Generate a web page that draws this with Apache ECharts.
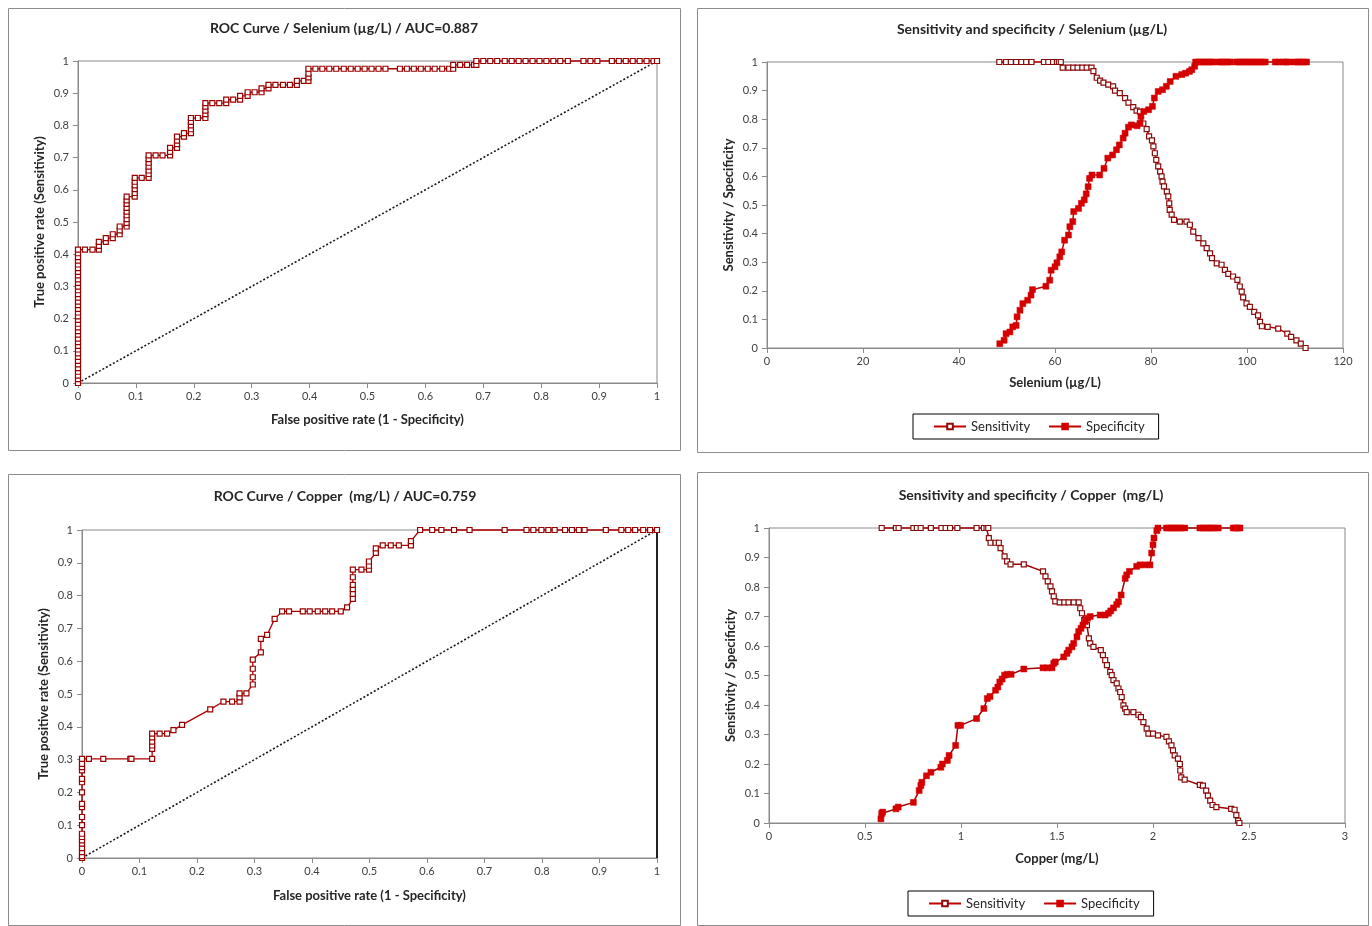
<!DOCTYPE html>
<html><head><meta charset="utf-8">
<script src="https://cdn.jsdelivr.net/npm/echarts@6/dist/echarts.min.js"></script>
<style>html,body{margin:0;padding:0;background:#fff}#c{width:1372px;height:926px}</style>
</head><body><div id="c"></div>
<script>
// ---------- tick labels ----------
const rocTicks = [0,0.1,0.2,0.3,0.4,0.5,0.6,0.7,0.8,0.9,1];
const seTicks = [0,20,40,60,80,100,120];
const cuTicks = [0,0.5,1,1.5,2,2.5,3];
const probTicks = [0,0.1,0.2,0.3,0.4,0.5,0.6,0.7,0.8,0.9,1];

// ---------- titles ----------
const titles = [
  'ROC Curve / Selenium (µg/L) / AUC=0.887',
  'Sensitivity and specificity / Selenium (µg/L)',
  'ROC Curve / Copper  (mg/L) / AUC=0.759',
  'Sensitivity and specificity / Copper  (mg/L)'
];
const legendNames = ['Sensitivity','Specificity'];

// ---------- diagonal reference ----------
const diagonal = [[0,0],[1,1]];

// ---------- ROC Selenium [FPR, TPR] ----------
const seRoc = [[0,0],[0,0.012],[0,0.023],[0,0.035],[0,0.046],[0,0.058],[0,0.069],[0,0.081],[0,0.092],[0,0.104],[0,0.115],[0,0.127],[0,0.138],[0,0.15],[0,0.161],[0,0.173],[0,0.184],[0,0.196],[0,0.207],[0,0.219],[0,0.23],[0,0.242],[0,0.253],[0,0.265],[0,0.276],[0,0.288],[0,0.299],[0,0.311],[0,0.322],[0,0.334],[0,0.345],[0,0.357],[0,0.368],[0,0.38],[0,0.391],[0,0.403],[0,0.414],
[0.012,0.414],[0.025,0.414],[0.036,0.414],[0.036,0.426],[0.036,0.438],[0.048,0.438],[0.048,0.45],[0.06,0.45],[0.06,0.462],[0.072,0.462],[0.072,0.474],[0.072,0.486],[0.084,0.486],[0.084,0.497],[0.084,0.509],[0.084,0.521],[0.084,0.532],[0.084,0.544],[0.084,0.556],[0.084,0.567],[0.084,0.579],[0.098,0.579],[0.098,0.59],[0.098,0.602],[0.098,0.614],[0.098,0.625],[0.098,0.637],[0.11,0.637],[0.122,0.637],[0.122,0.649],[0.122,0.66],[0.122,0.672],[0.122,0.684],[0.122,0.695],[0.122,0.707],[0.134,0.707],[0.146,0.707],[0.159,0.707],[0.159,0.718],[0.159,0.73],[0.171,0.73],[0.171,0.742],[0.171,0.753],[0.171,0.765],[0.183,0.765],[0.183,0.776],[0.195,0.776],[0.195,0.788],[0.195,0.8],[0.195,0.811],[0.195,0.823],[0.207,0.823],[0.22,0.823],[0.22,0.835],[0.22,0.846],[0.22,0.858],[0.22,0.869],[0.232,0.869],[0.244,0.869],[0.256,0.869],[0.256,0.88],[0.268,0.88],[0.28,0.88],[0.28,0.892],[0.293,0.892],[0.293,0.903],[0.305,0.903],[0.317,0.903],[0.317,0.915],[0.329,0.915],[0.329,0.926],[0.341,0.926],[0.354,0.926],[0.366,0.926],[0.378,0.926],[0.378,0.938],[0.39,0.938],[0.398,0.938],[0.398,0.949],[0.398,0.961],[0.398,0.976],[0.41,0.976],[0.422,0.976],[0.434,0.976],[0.446,0.976],[0.459,0.976],[0.471,0.976],[0.483,0.976],[0.495,0.976],[0.507,0.976],[0.519,0.976],[0.531,0.976],[0.556,0.976],[0.568,0.976],[0.58,0.976],[0.592,0.976],[0.604,0.976],[0.616,0.976],[0.629,0.976],[0.641,0.976],[0.648,0.976],[0.648,0.988],[0.66,0.988],[0.672,0.988],[0.684,0.988],[0.688,0.988],[0.688,1],[0.7,1],[0.712,1],[0.724,1],[0.737,1],[0.749,1],[0.761,1],[0.773,1],[0.785,1],[0.797,1],[0.809,1],[0.821,1],[0.833,1],[0.846,1],[0.873,1],[0.885,1],[0.897,1],[0.922,1],[0.934,1],[0.946,1],[0.958,1],[0.97,1],[0.982,1],[0.994,1],[1,1]];

// ---------- ROC Copper [FPR, TPR] ----------
const cuRoc = [[0,0],[0,0.006],[0,0.018],[0,0.03],[0,0.044],[0,0.054],[0,0.064],[0,0.074],[0,0.1],[0,0.125],[0,0.155],[0,0.165],[0,0.2],[0,0.231],[0,0.241],[0,0.267],[0,0.277],[0,0.287],[0,0.302],[0.012,0.302],[0.037,0.302],[0.084,0.302],[0.086,0.302],[0.122,0.302],[0.122,0.333],[0.122,0.343],[0.122,0.355],[0.122,0.368],[0.122,0.379],[0.135,0.379],[0.148,0.379],[0.159,0.39],[0.174,0.406],[0.223,0.453],[0.246,0.477],[0.261,0.477],[0.274,0.477],[0.274,0.49],[0.274,0.502],[0.286,0.502],[0.297,0.529],[0.297,0.551],[0.297,0.577],[0.297,0.605],[0.311,0.627],[0.311,0.668],[0.322,0.68],[0.335,0.729],[0.348,0.752],[0.36,0.752],[0.384,0.752],[0.396,0.752],[0.41,0.752],[0.423,0.752],[0.435,0.752],[0.45,0.752],[0.461,0.764],[0.471,0.79],[0.471,0.805],[0.471,0.82],[0.471,0.833],[0.471,0.856],[0.471,0.879],[0.486,0.879],[0.499,0.879],[0.499,0.891],[0.499,0.904],[0.511,0.93],[0.511,0.944],[0.523,0.953],[0.537,0.953],[0.551,0.953],[0.572,0.953],[0.572,0.966],[0.588,1],[0.609,1],[0.625,1],[0.647,1],[0.674,1],[0.735,1],[0.773,1],[0.785,1],[0.799,1],[0.811,1],[0.822,1],[0.84,1],[0.852,1],[0.864,1],[0.874,1],[0.911,1],[0.938,1],[0.95,1],[0.962,1],[0.976,1],[0.988,1],[1,1]];

// ---------- Selenium sensitivity / specificity [threshold, value] ----------
const seSens = [[48.4,1],[49.8,1],[50.8,1],[51.9,1],[53.0,1],[54.0,1],[55.1,1],[57.7,1],[58.6,1],[59.6,1],[60.4,1],[60.8,1],[61.2,1],[61.6,0.98],[62.8,0.98],[63.8,0.98],[64.7,0.98],[65.7,0.98],[66.6,0.98],[67.6,0.98],[68.0,0.968],[68.7,0.945],[69.4,0.935],[70.1,0.928],[71.1,0.921],[72.1,0.915],[72.5,0.9],[73.5,0.891],[74.6,0.874],[75.3,0.858],[76.3,0.842],[77.0,0.83],[77.7,0.826],[78.4,0.785],[79.1,0.765],[79.6,0.74],[80.2,0.726],[80.5,0.705],[80.8,0.681],[81.1,0.658],[81.5,0.635],[81.9,0.617],[82.2,0.6],[82.4,0.582],[82.7,0.565],[83.3,0.547],[83.6,0.53],[83.8,0.506],[83.9,0.483],[84.3,0.466],[84.8,0.448],[86.0,0.442],[87.4,0.442],[88.1,0.431],[88.8,0.407],[89.9,0.384],[90.9,0.366],[91.6,0.349],[92.3,0.331],[92.7,0.314],[93.7,0.296],[94.7,0.291],[95.4,0.273],[96.1,0.259],[97.1,0.25],[98.0,0.238],[98.5,0.215],[98.9,0.197],[99.2,0.177],[99.9,0.156],[100.6,0.144],[101.5,0.126],[102.3,0.114],[102.7,0.091],[103.1,0.076],[104.3,0.074],[106.5,0.068],[108.4,0.05],[109.2,0.039],[110.3,0.027],[111.2,0.015],[112.2,0]];
const seSpec = [[48.5,0.015],[49.4,0.027],[49.8,0.05],[50.6,0.056],[51.2,0.074],[51.9,0.079],[52.1,0.109],[52.7,0.132],[53.3,0.155],[54.3,0.167],[55.0,0.185],[55.3,0.204],[58.1,0.216],[58.9,0.237],[59.2,0.272],[60.0,0.284],[60.4,0.298],[61.0,0.319],[61.4,0.336],[62.0,0.377],[62.8,0.395],[63.1,0.424],[63.7,0.442],[63.9,0.477],[64.9,0.488],[65.5,0.506],[66.1,0.518],[66.5,0.539],[66.9,0.564],[67.2,0.593],[67.7,0.605],[69.3,0.605],[70.2,0.628],[71.0,0.664],[72.0,0.675],[72.8,0.693],[73.4,0.71],[74.2,0.734],[74.6,0.751],[75.3,0.772],[75.9,0.78],[77.1,0.777],[77.7,0.786],[77.9,0.81],[78.5,0.827],[79.5,0.833],[80.3,0.845],[80.7,0.874],[81.5,0.897],[82.4,0.903],[83.2,0.915],[84.0,0.932],[85.2,0.95],[86.4,0.956],[87.2,0.961],[88.0,0.967],[88.5,0.973],[89.1,0.985],[89.3,1],[89.9,1],[90.5,1],[91.1,1],[91.7,1],[92.3,1],[92.9,1],[94.1,1],[94.7,1],[95.3,1],[95.9,1],[96.5,1],[97.8,1],[98.4,1],[99.0,1],[99.6,1],[100.2,1],[100.8,1],[101.4,1],[102.0,1],[102.6,1],[103.2,1],[103.8,1],[105.9,1],[106.6,1],[107.6,1],[108.2,1],[108.8,1],[110.0,1],[110.6,1],[111.2,1],[111.8,1],[112.4,1]];

// ---------- Copper sensitivity / specificity [threshold, value] ----------
const cuSens = [[0.587,1],[0.661,1],[0.675,1],[0.752,1],[0.77,1],[0.79,1],[0.843,1],[0.898,1],[0.92,1],[0.943,1],[0.981,1],[1.081,1],[1.119,1],[1.133,1],[1.142,1],[1.145,0.966],[1.154,0.95],[1.18,0.95],[1.197,0.95],[1.206,0.932],[1.227,0.904],[1.24,0.887],[1.258,0.877],[1.327,0.877],[1.427,0.853],[1.44,0.836],[1.452,0.819],[1.466,0.802],[1.474,0.785],[1.483,0.768],[1.491,0.751],[1.514,0.748],[1.538,0.748],[1.56,0.748],[1.587,0.748],[1.613,0.748],[1.621,0.728],[1.63,0.711],[1.642,0.688],[1.656,0.671],[1.666,0.626],[1.673,0.609],[1.69,0.597],[1.728,0.586],[1.739,0.569],[1.751,0.552],[1.76,0.535],[1.777,0.512],[1.785,0.501],[1.794,0.484],[1.811,0.473],[1.82,0.456],[1.829,0.444],[1.837,0.427],[1.846,0.399],[1.855,0.388],[1.863,0.376],[1.898,0.376],[1.924,0.367],[1.937,0.359],[1.95,0.342],[1.967,0.32],[1.976,0.303],[2.0,0.303],[2.026,0.297],[2.07,0.292],[2.083,0.277],[2.096,0.263],[2.104,0.246],[2.113,0.229],[2.13,0.218],[2.14,0.2],[2.142,0.178],[2.147,0.155],[2.165,0.147],[2.244,0.129],[2.26,0.127],[2.277,0.11],[2.286,0.093],[2.298,0.076],[2.31,0.061],[2.33,0.054],[2.407,0.048],[2.425,0.045],[2.434,0.027],[2.443,0.008],[2.45,0]];
const cuSpec = [[0.583,0.014],[0.587,0.032],[0.592,0.037],[0.661,0.048],[0.673,0.054],[0.752,0.07],[0.782,0.11],[0.791,0.127],[0.796,0.138],[0.82,0.16],[0.843,0.172],[0.895,0.189],[0.903,0.2],[0.929,0.212],[0.938,0.229],[0.972,0.263],[0.984,0.331],[0.998,0.331],[1.081,0.354],[1.119,0.388],[1.137,0.422],[1.151,0.429],[1.18,0.45],[1.192,0.461],[1.202,0.478],[1.214,0.488],[1.227,0.501],[1.24,0.504],[1.261,0.504],[1.327,0.522],[1.427,0.526],[1.45,0.526],[1.474,0.526],[1.483,0.541],[1.491,0.546],[1.535,0.563],[1.552,0.575],[1.561,0.586],[1.578,0.597],[1.587,0.609],[1.604,0.631],[1.613,0.649],[1.625,0.66],[1.635,0.671],[1.647,0.683],[1.659,0.694],[1.673,0.7],[1.725,0.705],[1.751,0.705],[1.768,0.711],[1.78,0.719],[1.794,0.729],[1.811,0.741],[1.82,0.75],[1.834,0.773],[1.855,0.829],[1.863,0.841],[1.877,0.853],[1.915,0.87],[1.932,0.875],[1.958,0.875],[1.984,0.875],[1.993,0.915],[2.0,0.943],[2.005,0.966],[2.02,0.991],[2.026,1],[2.07,1],[2.085,1],[2.1,1],[2.115,1],[2.13,1],[2.145,1],[2.165,1],[2.244,1],[2.26,1],[2.277,1],[2.29,1],[2.305,1],[2.32,1],[2.34,1],[2.418,1],[2.43,1],[2.442,1],[2.453,1]];

// ---------- styling ----------
const FONT = 'Lato, "Open Sans", "DejaVu Sans", sans-serif';
const AX = '#8a8a8a';
const RED = '#c00000';
const DARK = '#8b0a0a';

function xAx(gi, ticks, name, gap){
  return {type:'value', gridIndex:gi, min:ticks[0], max:ticks[ticks.length-1], interval:ticks[1]-ticks[0],
    name:name, nameLocation:'middle', nameGap:gap,
    nameTextStyle:{fontFamily:FONT,fontSize:13,fontWeight:'bold',color:'#262626'},
    axisLine:{show:true,onZero:false,lineStyle:{color:AX,width:1}},
    axisTick:{show:true,inside:false,length:5,lineStyle:{color:AX}},
    axisLabel:{fontFamily:FONT,fontSize:11,color:'#404040',margin:8,showMinLabel:true,showMaxLabel:true},
    splitLine:{show:false}};
}
function yAx(gi, ticks, name, gap){
  return {type:'value', gridIndex:gi, min:ticks[0], max:ticks[ticks.length-1], interval:ticks[1]-ticks[0],
    name:name, nameLocation:'middle', nameGap:gap, nameRotate:90,
    nameTextStyle:{fontFamily:FONT,fontSize:13,fontWeight:'bold',color:'#262626'},
    axisLine:{show:true,onZero:false,lineStyle:{color:AX,width:1}},
    axisTick:{show:true,inside:false,length:5,lineStyle:{color:AX}},
    axisLabel:{fontFamily:FONT,fontSize:11,color:'#404040',margin:9,showMinLabel:true,showMaxLabel:true},
    splitLine:{show:false}};
}
function rocSeries(name, data, xi){
  return {name:name, type:'line', xAxisIndex:xi, yAxisIndex:xi, data:data, clip:false,
    symbol:'rect', symbolSize:5, showAllSymbol:true,
    lineStyle:{color:'#b00000',width:1.3},
    itemStyle:{color:'#ffffff',borderColor:'#9a0000',borderWidth:1.2}, z:3};
}
function diagSeries(xi){
  return {name:'Random', type:'line', xAxisIndex:xi, yAxisIndex:xi, data:diagonal, symbol:'none',
    lineStyle:{color:'#1a1a1a',width:1.6,type:[2,2]}, z:2};
}
function sensSeries(data, xi, lc){
  return {name:legendNames[0], type:'line', xAxisIndex:xi, yAxisIndex:xi, data:data, clip:false,
    symbol:'rect', symbolSize:5, showAllSymbol:true,
    lineStyle:{color:lc,width:1.5},
    itemStyle:{color:'#ffffff',borderColor:DARK,borderWidth:1.2}, z:3};
}
function specSeries(data, xi, lc){
  return {name:legendNames[1], type:'line', xAxisIndex:xi, yAxisIndex:xi, data:data, clip:false,
    symbol:'rect', symbolSize:6, showAllSymbol:true,
    lineStyle:{color:lc,width:1.5},
    itemStyle:{color:'#d40000',borderColor:'#d40000',borderWidth:0.5}, z:4};
}
function legendAt(left, top){
  return {left:left, top:top, orient:'horizontal', data:legendNames, selectedMode:false,
    padding:[6,14,6,20], itemGap:18, itemWidth:32, itemHeight:7,
    borderColor:'#000', borderWidth:1, backgroundColor:'#fff',
    textStyle:{fontFamily:FONT,fontSize:13,color:'#262626'}};
}
function titleAt(text, cx, top){
  return {text:text, left:cx, top:top, textAlign:'center', padding:0,
    textStyle:{fontFamily:FONT,fontSize:14,fontWeight:'bold',color:'#262626'}};
}
function box(x,y,w,h){
  return {type:'rect', shape:{x:x+0.5,y:y+0.5,width:w,height:h}, style:{fill:'none',stroke:'#8c8c8c',lineWidth:1}, z:-10, silent:true};
}

const chart = echarts.init(document.getElementById('c'), null, {renderer:'canvas'});
chart.setOption({
  animation:false,
  backgroundColor:'#ffffff',
  textStyle:{fontFamily:FONT},
  graphic:[box(8,8,672,442), box(697,8,671,444), box(8,474,672,451), box(697,472,671,453)],
  title:[titleAt(titles[0],344,21), titleAt(titles[1],1032,22), titleAt(titles[2],345,489), titleAt(titles[3],1031,488)],
  legend:[legendAt(913,414), legendAt(908,891)],
  grid:[
    {left:78, top:61, width:579, height:322, show:true, borderColor:AX, borderWidth:1, backgroundColor:'#fff'},
    {left:767, top:62, width:576, height:286, show:true, borderColor:AX, borderWidth:1, backgroundColor:'#fff'},
    {left:82, top:530, width:575, height:328, show:true, borderColor:AX, borderWidth:1, backgroundColor:'#fff'},
    {left:769, top:528, width:576, height:295, show:true, borderColor:AX, borderWidth:1, backgroundColor:'#fff'}
  ],
  xAxis:[
    xAx(0, rocTicks, 'False positive rate (1 - Specificity)', 30),
    xAx(1, seTicks, 'Selenium (µg/L)', 28),
    xAx(2, rocTicks, 'False positive rate (1 - Specificity)', 31),
    xAx(3, cuTicks, 'Copper (mg/L)', 29)
  ],
  yAxis:[
    yAx(0, probTicks, 'True positive rate (Sensitivity)', 32),
    yAx(1, probTicks, 'Sensitivity / Specificity', 32),
    yAx(2, probTicks, 'True positive rate (Sensitivity)', 32),
    yAx(3, probTicks, 'Sensitivity / Specificity', 32),
    {type:'value', gridIndex:2, position:'right', min:probTicks[0], max:probTicks[probTicks.length-1],
     axisLine:{show:true,onZero:false,lineStyle:{color:'#222',width:2}}, axisTick:{show:false}, axisLabel:{show:false}, splitLine:{show:false}}
  ],
  series:[
    diagSeries(0), rocSeries('ROC Selenium', seRoc, 0),
    sensSeries(seSens, 1, RED), specSeries(seSpec, 1, RED),
    diagSeries(2), rocSeries('ROC Copper', cuRoc, 2),
    sensSeries(cuSens, 3, '#a00000'), specSeries(cuSpec, 3, '#a00000')
  ]
});
</script>
</body></html>
